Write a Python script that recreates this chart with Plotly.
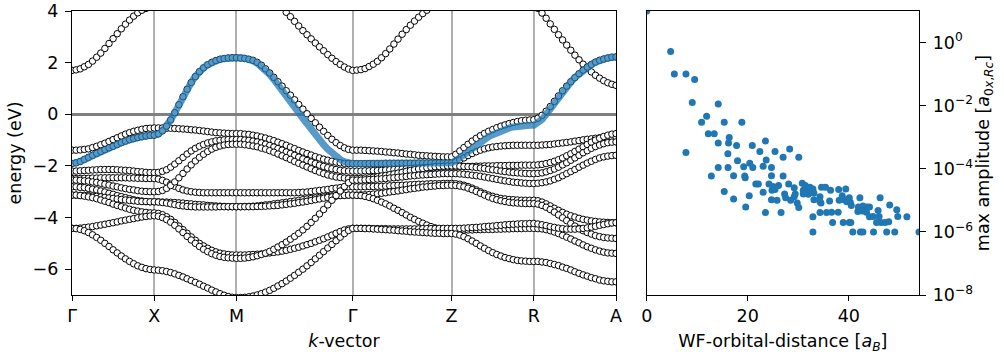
import numpy as np
import plotly.graph_objects as go

# ---------------- band-structure data ----------------
K_LABELS = ["Γ", "X", "M", "Γ", "Z", "R", "A"]
K_NODES = [0.0, 1.0, 2.0, 3.414, 4.617, 5.617, 6.617]
N_SEG = [20, 20, 28, 24, 20, 20]   # k-samples per path segment

N = None
# each band: six segment lists (Γ-X, X-M, M-Γ, Γ-Z, Z-R, R-A), end points shared
BAND_TOP = [
    [1.70,1.72,1.76,1.84,1.93,2.06,2.21,2.37,2.55,2.74,2.93,3.12,3.31,3.49,3.65,3.80,3.93,4.03,4.10,4.15,4.16],
    [4.16,N,N,N,N,N,N,N,N,N,N,N,N,N,N,N,N,N,N,N,N],
    [N,N,N,N,N,N,N,N,N,N,N,4.15,3.95,3.78,3.60,3.42,3.24,3.08,2.92,2.76,2.61,2.46,2.31,2.17,2.04,1.93,1.83,1.75,1.70],
    [1.70,1.71,1.73,1.77,1.85,1.94,2.05,2.19,2.35,2.53,2.72,2.91,3.10,3.28,3.45,3.61,3.76,3.90,4.03,4.15,N,N,N,N,N],
    [N,N,N,N,N,N,N,N,N,N,N,N,N,N,N,N,N,N,N,N,N],
    [N,4.10,3.92,3.72,3.50,3.29,3.08,2.88,2.68,2.48,2.29,2.11,1.94,1.78,1.64,1.51,1.40,1.30,1.22,1.16,1.12],
]
BAND_1 = [
    [-1.39,-1.39,-1.38,-1.36,-1.34,-1.29,-1.24,-1.18,-1.12,-1.05,-0.98,-0.91,-0.84,-0.77,-0.71,-0.66,-0.62,-0.58,-0.55,-0.54,-0.53],
    [-0.53,-0.53,-0.53,-0.54,-0.54,-0.55,-0.56,-0.57,-0.58,-0.60,-0.61,-0.63,-0.65,-0.67,-0.69,-0.71,-0.72,-0.73,-0.74,-0.75,-0.75],
    [-0.75,-0.75,-0.77,-0.78,-0.81,-0.84,-0.88,-0.92,-0.97,-1.02,-1.08,-1.14,-1.20,-1.27,-1.33,-1.40,-1.46,-1.52,-1.58,-1.64,-1.69,-1.74,-1.78,-1.82,-1.85,-1.88,-1.90,-1.91,-1.91],
    [-1.91,-1.91,-1.91,-1.91,-1.91,-1.91,-1.91,-1.91,-1.90,-1.90,-1.90,-1.90,-1.90,-1.90,-1.90,-1.90,-1.89,-1.89,-1.89,-1.89,-1.89,-1.88,-1.88,-1.88,-1.88],
    [-1.88,-1.84,-1.77,-1.69,-1.60,-1.52,-1.45,-1.39,-1.34,-1.30,-1.27,-1.25,-1.23,-1.22,-1.21,-1.20,-1.20,-1.20,-1.20,-1.20,-1.20],
    [-1.20,-1.20,-1.19,-1.18,-1.17,-1.15,-1.13,-1.11,-1.09,-1.07,-1.04,-1.02,-0.99,-0.97,-0.95,-0.93,-0.91,-0.90,-0.89,-0.88,-0.88],
]
BAND_2 = [
    [-1.91,-1.88,-1.83,-1.75,-1.67,-1.59,-1.51,-1.44,-1.37,-1.30,-1.24,-1.17,-1.10,-1.04,-0.98,-0.94,-0.90,-0.87,-0.84,-0.82,-0.81],
    [-0.81,-0.76,-0.64,-0.46,-0.22,0.06,0.37,0.68,0.97,1.23,1.46,1.65,1.80,1.92,2.01,2.08,2.13,2.16,2.18,2.19,2.19],
    [2.19,2.18,2.16,2.13,2.09,2.01,1.90,1.76,1.60,1.43,1.26,1.09,0.91,0.74,0.56,0.38,0.20,0.02,-0.16,-0.33,-0.50,-0.66,-0.82,-0.97,-1.10,-1.21,-1.30,-1.36,-1.39],
    [-1.39,-1.39,-1.39,-1.40,-1.41,-1.42,-1.43,-1.44,-1.46,-1.47,-1.49,-1.50,-1.52,-1.54,-1.55,-1.57,-1.59,-1.60,-1.61,-1.62,-1.63,-1.64,-1.65,-1.65,-1.65],
    [-1.65,-1.55,-1.42,-1.29,-1.16,-1.04,-0.93,-0.83,-0.74,-0.66,-0.59,-0.52,-0.46,-0.41,-0.36,-0.32,-0.28,-0.25,-0.23,-0.22,-0.21],
    [-0.21,-0.15,-0.04,0.12,0.30,0.50,0.71,0.91,1.09,1.26,1.42,1.57,1.71,1.83,1.93,2.02,2.09,2.14,2.18,2.21,2.22],
]
BAND_3 = [
    [-2.20,-2.20,-2.19,-2.18,-2.17,-2.16,-2.15,-2.14,-2.14,-2.14,-2.14,-2.15,-2.16,-2.17,-2.18,-2.20,-2.22,-2.23,-2.25,-2.26,-2.26],
    [-2.26,-2.25,-2.21,-2.15,-2.05,-1.93,-1.80,-1.67,-1.54,-1.42,-1.32,-1.24,-1.17,-1.11,-1.07,-1.03,-1.01,-0.99,-0.98,-0.98,-0.98],
    [-0.98,-0.98,-1.00,-1.01,-1.04,-1.07,-1.11,-1.16,-1.21,-1.27,-1.33,-1.39,-1.46,-1.52,-1.59,-1.66,-1.73,-1.79,-1.85,-1.91,-1.97,-2.02,-2.07,-2.11,-2.14,-2.17,-2.19,-2.20,-2.20],
    [-2.20,-2.20,-2.20,-2.19,-2.19,-2.18,-2.18,-2.17,-2.16,-2.15,-2.14,-2.13,-2.12,-2.11,-2.10,-2.09,-2.08,-2.07,-2.06,-2.06,-2.05,-2.05,-2.04,-2.04,-2.04],
    [-2.04,-2.04,-2.03,-2.03,-2.02,-2.02,-2.01,-2.01,-2.00,-2.00,-2.00,-1.99,-1.99,-1.99,-1.98,-1.98,-1.98,-1.97,-1.97,-1.97,-1.97],
    [-1.97,-1.96,-1.94,-1.91,-1.87,-1.82,-1.76,-1.69,-1.61,-1.53,-1.44,-1.35,-1.26,-1.17,-1.08,-1.00,-0.93,-0.86,-0.81,-0.77,-0.75],
]
BAND_4 = [
    [-2.49,-2.49,-2.49,-2.48,-2.48,-2.47,-2.47,-2.46,-2.46,-2.46,-2.46,-2.46,-2.46,-2.46,-2.47,-2.47,-2.48,-2.48,-2.49,-2.49,-2.49],
    [-2.49,-2.51,-2.56,-2.63,-2.71,-2.79,-2.87,-2.93,-2.97,-3.00,-3.02,-3.03,-3.04,-3.04,-3.04,-3.04,-3.04,-3.04,-3.04,-3.04,-3.04],
    [-3.04,-3.04,-3.04,-3.04,-3.04,-3.04,-3.04,-3.04,-3.04,-3.04,-3.04,-3.04,-3.04,-3.04,-3.04,-3.03,-3.02,-3.01,-2.99,-2.97,-2.95,-2.93,-2.91,-2.88,-2.86,-2.84,-2.82,-2.81,-2.81],
    [-2.81,-2.81,-2.81,-2.81,-2.80,-2.80,-2.79,-2.79,-2.78,-2.77,-2.76,-2.75,-2.75,-2.74,-2.73,-2.72,-2.71,-2.71,-2.70,-2.69,-2.69,-2.69,-2.68,-2.68,-2.68],
    [-2.68,-2.69,-2.71,-2.75,-2.80,-2.86,-2.93,-3.00,-3.07,-3.13,-3.18,-3.22,-3.26,-3.28,-3.30,-3.31,-3.32,-3.33,-3.33,-3.33,-3.33],
    [-3.33,-3.35,-3.40,-3.47,-3.55,-3.64,-3.72,-3.80,-3.87,-3.93,-3.98,-4.03,-4.07,-4.10,-4.13,-4.15,-4.17,-4.18,-4.19,-4.20,-4.20],
]
BAND_5 = [
    [-2.55,-2.55,-2.56,-2.58,-2.59,-2.62,-2.64,-2.67,-2.71,-2.74,-2.78,-2.81,-2.85,-2.88,-2.91,-2.93,-2.96,-2.98,-2.99,-3.00,-3.00],
    [-3.00,-2.99,-2.95,-2.87,-2.76,-2.62,-2.46,-2.29,-2.12,-1.96,-1.81,-1.67,-1.55,-1.44,-1.35,-1.28,-1.23,-1.19,-1.17,-1.16,-1.16],
    [-1.16,-1.16,-1.18,-1.20,-1.23,-1.26,-1.31,-1.35,-1.41,-1.47,-1.54,-1.61,-1.68,-1.75,-1.83,-1.90,-1.97,-2.04,-2.11,-2.18,-2.24,-2.30,-2.35,-2.39,-2.43,-2.45,-2.47,-2.49,-2.49],
    [-2.49,-2.49,-2.48,-2.47,-2.46,-2.44,-2.42,-2.39,-2.37,-2.34,-2.31,-2.28,-2.25,-2.21,-2.18,-2.15,-2.12,-2.10,-2.07,-2.05,-2.03,-2.02,-2.01,-2.00,-2.00],
    [-2.00,-2.00,-2.01,-2.02,-2.03,-2.04,-2.06,-2.08,-2.10,-2.13,-2.15,-2.17,-2.20,-2.22,-2.24,-2.26,-2.27,-2.28,-2.29,-2.30,-2.30],
    [-2.30,-2.29,-2.27,-2.23,-2.18,-2.12,-2.05,-1.96,-1.88,-1.78,-1.69,-1.59,-1.49,-1.41,-1.32,-1.25,-1.19,-1.14,-1.10,-1.08,-1.07],
]
BAND_6 = [
    [-2.81,-2.81,-2.83,-2.84,-2.87,-2.90,-2.93,-2.97,-3.01,-3.06,-3.10,-3.15,-3.19,-3.23,-3.27,-3.31,-3.34,-3.36,-3.38,-3.39,-3.39],
    [-3.39,-3.39,-3.40,-3.40,-3.41,-3.42,-3.43,-3.44,-3.46,-3.47,-3.49,-3.50,-3.51,-3.53,-3.54,-3.55,-3.56,-3.57,-3.58,-3.58,-3.58],
    [-3.58,-3.58,-3.57,-3.57,-3.56,-3.55,-3.53,-3.51,-3.50,-3.47,-3.45,-3.43,-3.41,-3.38,-3.36,-3.33,-3.31,-3.28,-3.26,-3.24,-3.22,-3.20,-3.18,-3.16,-3.15,-3.14,-3.14,-3.13,-3.13],
    [-3.13,-3.13,-3.12,-3.12,-3.11,-3.09,-3.08,-3.06,-3.04,-3.01,-2.99,-2.97,-2.94,-2.92,-2.89,-2.87,-2.85,-2.82,-2.81,-2.79,-2.78,-2.76,-2.76,-2.75,-2.75],
    [-2.75,-2.76,-2.78,-2.81,-2.86,-2.92,-2.99,-3.06,-3.13,-3.20,-3.26,-3.31,-3.35,-3.38,-3.41,-3.43,-3.44,-3.45,-3.46,-3.46,-3.46],
    [-3.46,-3.48,-3.53,-3.60,-3.69,-3.79,-3.90,-4.01,-4.12,-4.23,-4.33,-4.42,-4.51,-4.58,-4.64,-4.70,-4.74,-4.77,-4.79,-4.80,-4.81],
]
BAND_7 = [
    [-3.13,-3.13,-3.14,-3.14,-3.15,-3.17,-3.18,-3.20,-3.22,-3.24,-3.26,-3.28,-3.30,-3.32,-3.34,-3.35,-3.37,-3.38,-3.38,-3.39,-3.39],
    [-3.39,-3.40,-3.42,-3.44,-3.47,-3.50,-3.53,-3.55,-3.57,-3.58,-3.59,-3.59,-3.59,-3.59,-3.59,-3.59,-3.58,-3.58,-3.58,-3.58,-3.58],
    [-3.58,-3.58,-3.58,-3.58,-3.58,-3.57,-3.57,-3.56,-3.55,-3.54,-3.53,-3.51,-3.49,-3.47,-3.45,-3.42,-3.40,-3.37,-3.34,-3.31,-3.28,-3.25,-3.22,-3.20,-3.17,-3.15,-3.14,-3.13,-3.13],
    [-3.13,-3.14,-3.15,-3.18,-3.22,-3.27,-3.33,-3.40,-3.47,-3.55,-3.64,-3.72,-3.81,-3.90,-3.99,-4.07,-4.15,-4.22,-4.29,-4.35,-4.40,-4.44,-4.47,-4.48,-4.49],
    [-4.49,-4.49,-4.49,-4.48,-4.48,-4.48,-4.47,-4.47,-4.46,-4.46,-4.46,-4.45,-4.45,-4.44,-4.44,-4.43,-4.43,-4.43,-4.42,-4.42,-4.42],
    [-4.42,-4.43,-4.44,-4.47,-4.51,-4.56,-4.62,-4.69,-4.76,-4.83,-4.91,-4.98,-5.06,-5.13,-5.19,-5.25,-5.30,-5.34,-5.37,-5.38,-5.39],
]
BAND_8 = [
    [-3.13,-3.13,-3.15,-3.17,-3.20,-3.23,-3.27,-3.32,-3.37,-3.42,-3.48,-3.53,-3.58,-3.63,-3.68,-3.72,-3.75,-3.78,-3.80,-3.82,-3.82],
    [-3.82,-3.84,-3.89,-3.97,-4.07,-4.19,-4.33,-4.47,-4.61,-4.75,-4.88,-5.00,-5.10,-5.19,-5.27,-5.33,-5.38,-5.41,-5.43,-5.45,-5.45],
    [-5.45,-5.45,-5.45,-5.44,-5.43,-5.42,-5.41,-5.39,-5.37,-5.35,-5.33,-5.30,-5.27,-5.23,-5.19,-5.15,-5.10,-5.05,-5.00,-4.94,-4.88,-4.82,-4.75,-4.68,-4.61,-4.54,-4.48,-4.44,-4.42],
    [-4.42,-4.42,-4.42,-4.42,-4.42,-4.43,-4.43,-4.43,-4.43,-4.44,-4.44,-4.44,-4.44,-4.44,-4.44,-4.44,-4.44,-4.43,-4.43,-4.43,-4.43,-4.42,-4.42,-4.42,-4.42],
    [-4.42,-4.42,-4.42,-4.41,-4.40,-4.39,-4.38,-4.37,-4.35,-4.34,-4.33,-4.31,-4.30,-4.28,-4.27,-4.26,-4.25,-4.24,-4.24,-4.23,-4.23],
    [-4.23,-4.25,-4.28,-4.31,-4.35,-4.38,-4.41,-4.43,-4.45,-4.45,-4.45,-4.44,-4.42,-4.40,-4.37,-4.34,-4.30,-4.27,-4.24,-4.21,-4.20],
]
BAND_9 = [
    [-4.42,-4.42,-4.41,-4.39,-4.37,-4.35,-4.32,-4.29,-4.26,-4.23,-4.20,-4.17,-4.13,-4.10,-4.07,-4.04,-4.01,-3.98,-3.96,-3.94,-3.93],
    [-3.93,-3.95,-4.00,-4.08,-4.18,-4.30,-4.44,-4.58,-4.73,-4.87,-5.00,-5.12,-5.23,-5.32,-5.40,-5.46,-5.51,-5.54,-5.56,-5.57,-5.58],
    [-5.58,-5.58,-5.57,-5.55,-5.52,-5.48,-5.43,-5.38,-5.31,-5.23,-5.14,-5.05,-4.95,-4.84,-4.73,-4.61,-4.48,-4.34,-4.19,-4.03,-3.86,-3.69,-3.51,-3.33,-3.15,-2.97,-2.80,-2.65,-2.55],
    [-2.55,-2.55,-2.55,-2.54,-2.53,-2.52,-2.51,-2.50,-2.49,-2.47,-2.46,-2.44,-2.43,-2.41,-2.39,-2.38,-2.36,-2.35,-2.34,-2.33,-2.32,-2.31,-2.30,-2.30,-2.30],
    [-2.30,-2.30,-2.31,-2.32,-2.34,-2.36,-2.38,-2.40,-2.43,-2.46,-2.49,-2.52,-2.55,-2.58,-2.60,-2.63,-2.64,-2.66,-2.67,-2.68,-2.68],
    [-2.68,-2.67,-2.65,-2.62,-2.58,-2.52,-2.46,-2.38,-2.30,-2.22,-2.14,-2.05,-1.97,-1.89,-1.82,-1.75,-1.69,-1.65,-1.62,-1.60,-1.59],
]
BAND_10 = [
    [-4.42,-4.43,-4.46,-4.51,-4.58,-4.67,-4.77,-4.88,-5.00,-5.12,-5.25,-5.37,-5.49,-5.60,-5.70,-5.79,-5.87,-5.93,-5.98,-6.01,-6.03],
    [-6.03,-6.04,-6.06,-6.09,-6.13,-6.18,-6.24,-6.30,-6.37,-6.44,-6.51,-6.58,-6.66,-6.73,-6.81,-6.88,-6.95,-7.01,-7.06,-7.09,-7.10],
    [-7.10,-7.10,-7.09,-7.07,-7.04,-7.00,-6.95,-6.89,-6.82,-6.74,-6.65,-6.56,-6.46,-6.35,-6.24,-6.12,-6.00,-5.87,-5.74,-5.60,-5.46,-5.32,-5.18,-5.04,-4.90,-4.76,-4.62,-4.50,-4.42],
    [-4.42,-4.42,-4.42,-4.43,-4.43,-4.44,-4.45,-4.46,-4.47,-4.48,-4.49,-4.51,-4.52,-4.53,-4.55,-4.56,-4.57,-4.58,-4.59,-4.60,-4.61,-4.61,-4.62,-4.62,-4.62],
    [-4.62,-4.64,-4.68,-4.74,-4.82,-4.91,-5.00,-5.10,-5.19,-5.28,-5.36,-5.43,-5.49,-5.55,-5.59,-5.63,-5.66,-5.68,-5.69,-5.70,-5.70],
    [-5.70,-5.70,-5.72,-5.74,-5.78,-5.82,-5.86,-5.92,-5.97,-6.03,-6.10,-6.16,-6.22,-6.27,-6.33,-6.37,-6.42,-6.45,-6.47,-6.49,-6.49],
]
# Wannier-interpolated band (blue)
WANNIER = [
    [-1.91,-1.88,-1.83,-1.75,-1.67,-1.59,-1.51,-1.44,-1.37,-1.30,-1.24,-1.17,-1.10,-1.04,-0.98,-0.94,-0.90,-0.87,-0.84,-0.82,-0.81],
    [-0.81,-0.76,-0.64,-0.46,-0.22,0.06,0.37,0.68,0.97,1.23,1.46,1.65,1.80,1.92,2.01,2.08,2.13,2.16,2.18,2.19,2.19],
    [2.19,2.19,2.17,2.13,2.07,1.98,1.86,1.71,1.54,1.35,1.15,0.94,0.72,0.50,0.28,0.06,-0.16,-0.38,-0.59,-0.80,-1.00,-1.18,-1.35,-1.51,-1.64,-1.75,-1.84,-1.89,-1.91],
    [-1.91,-1.91,-1.91,-1.91,-1.91,-1.90,-1.90,-1.90,-1.90,-1.90,-1.90,-1.90,-1.89,-1.89,-1.89,-1.89,-1.89,-1.89,-1.89,-1.88,-1.88,-1.88,-1.88,-1.88,-1.88],
    [-1.88,-1.80,-1.68,-1.55,-1.42,-1.29,-1.17,-1.06,-0.96,-0.87,-0.79,-0.71,-0.64,-0.58,-0.53,-0.49,-0.46,-0.44,-0.43,-0.43,-0.43],
    [-0.43,-0.35,-0.20,0.00,0.22,0.45,0.68,0.88,1.07,1.25,1.42,1.57,1.71,1.83,1.93,2.02,2.09,2.14,2.18,2.21,2.22],
]

# ---------------- WF amplitude data ----------------
DIST = [0.0, 4.74, 5.47, 7.77, 9.49, 9.02, 14.16, 11.86, 10.87, 15.35,
        18.84, 12.19, 13.37, 16.34, 16.2, 14.16, 17.79, 23.5, 20.9, 22.4,
        25.4, 28.3, 27.0, 30.1, 7.77, 16.07, 17.98, 20.4, 19.2, 23.65,
        23.05, 24.7, 14.16, 16.1, 21.0, 12.8, 17.2, 19.4, 19.5, 24.7,
        27.0, 21.6, 22.1, 24.2, 25.0, 26.1, 28.1, 29.2, 30.8, 31.4,
        32.3, 32.9, 31.6, 34.6, 35.4, 36.4, 38.0, 39.4, 25.4, 24.8,
        23.05, 15.35, 20.3, 17.2, 24.7, 25.8, 27.5, 29.2, 29.8, 30.1,
        31.0, 32.0, 33.1, 34.3, 36.2, 34.3, 38.7, 39.1, 39.6, 40.3,
        40.1, 42.2, 46.2, 40.5, 41.9, 42.8, 43.6, 41.8, 42.7, 43.5,
        44.1, 44.8, 45.8, 46.0, 48.1, 49.5, 49.7, 51.5, 47.9, 47.2,
        46.4, 45.5, 36.8, 38.9, 40.1, 40.4, 32.9, 34.3, 35.6, 36.6,
        37.9, 23.5, 26.6, 32.9, 40.8, 42.3, 42.8, 44.9, 47.5, 49.1,
        53.9, 19.6, 34.5, 44.1, 31.8, 31.0, 33.1, 38.1, 29.4, 27.3,
        28.5]
AMP = [10.0, 0.52, 0.10, 0.10, 0.068, 0.0126, 0.0112, 0.0046, 0.0030, 0.0030,
       0.0030, 1.3e-3, 1.3e-3, 9.8e-4, 6.6e-4, 6.6e-4, 5.5e-4, 7.6e-4, 5.5e-4, 3.5e-4,
       3.5e-4, 4.2e-4, 2.3e-4, 2.3e-4, 3.3e-4, 3.0e-4, 1.8e-4, 1.5e-4, 1.15e-4, 1.9e-4,
       1.2e-4, 1.1e-4, 1.1e-4, 1.1e-4, 1.1e-4, 5.9e-5, 6.0e-5, 5.9e-5, 5.2e-5, 6.0e-5,
       5.9e-5, 3.3e-5, 3.3e-5, 3.3e-5, 2.75e-5, 2.95e-5, 3.3e-5, 2.5e-5, 3.5e-5, 2.95e-5,
       2.6e-5, 2.3e-5, 1.8e-5, 2.6e-5, 2.6e-5, 2.1e-5, 2.2e-5, 2.3e-5, 2.2e-5, 2.1e-5,
       1.8e-5, 1.9e-5, 1.4e-5, 1.1e-5, 1.05e-5, 1.0e-5, 1.2e-5, 1.3e-5, 8.3e-6, 5.9e-6,
       1.6e-5, 1.55e-5, 1.7e-5, 1.3e-5, 9.5e-6, 9.1e-6, 1.4e-5, 1.05e-5, 9.1e-6, 8.7e-6,
       1.2e-5, 1.2e-5, 1.2e-5, 6.9e-6, 6.2e-6, 6.6e-6, 6.2e-6, 4.4e-6, 4.6e-6, 4.2e-6,
       3.0e-6, 3.1e-6, 4.8e-6, 3.1e-6, 7.1e-6, 5.0e-6, 3.1e-6, 3.0e-6, 2.1e-6, 2.0e-6,
       2.0e-6, 2.0e-6, 2.0e-6, 2.0e-6, 2.0e-6, 2.0e-6, 3.0e-6, 4.1e-6, 4.1e-6, 4.2e-6,
       4.2e-6, 4.1e-6, 4.1e-6, 1.0e-6, 1.0e-6, 1.0e-6, 1.0e-6, 1.0e-6, 1.0e-6, 1.0e-6,
       1.0e-6, 6.2e-6, 8.3e-6, 6.2e-6, 2.3e-5, 2.1e-5, 1.05e-5, 1.0e-5, 1.6e-5, 1.6e-5,
       1.0e-5]
AMP_TICKS = [1e-8, 1e-6, 1e-4, 1e-2, 1e0]
AMP_TICKTEXT = ["10<sup>−8</sup>", "10<sup>−6</sup>", "10<sup>−4</sup>", "10<sup>−2</sup>", "10<sup>0</sup>"]


def path_k():
    ks = [K_NODES[0]]
    for i, n in enumerate(N_SEG):
        ks.extend(np.linspace(K_NODES[i], K_NODES[i + 1], n + 1)[1:].tolist())
    return ks


def join(segs):
    out = list(segs[0])
    for s in segs[1:]:
        out.extend(s[1:])
    return out


K = path_k()
FONT = "DejaVu Sans"
FS = 17.5
fig = go.Figure()

for band in [BAND_TOP, BAND_1, BAND_2, BAND_3, BAND_4, BAND_5,
             BAND_6, BAND_7, BAND_8, BAND_9, BAND_10]:
    fig.add_trace(go.Scatter(
        x=K, y=join(band), mode="markers", xaxis="x", yaxis="y",
        marker=dict(symbol="circle", size=6.5, color="white",
                    line=dict(color="black", width=1)),
        showlegend=False, hoverinfo="skip"))

fig.add_trace(go.Scatter(
    x=K, y=join(WANNIER), mode="lines", xaxis="x", yaxis="y",
    line=dict(color="rgba(31,119,180,0.75)", width=7),
    showlegend=False, hoverinfo="skip"))

fig.add_trace(go.Scatter(
    x=DIST, y=AMP, mode="markers", xaxis="x2", yaxis="y2",
    marker=dict(color="#1f77b4", size=7),
    showlegend=False))

axis_common = dict(showline=True, linecolor="black", linewidth=1.3, mirror=True,
                   ticks="outside", tickwidth=1.3, tickcolor="black",
                   automargin=False,
                   tickfont=dict(family=FONT, size=FS, color="black"))
xcommon = dict(ticklen=5, ticklabelstandoff=0, **axis_common)
ycommon = dict(ticklen=6, ticklabelstandoff=3, **axis_common)

fig.update_layout(
    width=1004, height=358,
    margin=dict(l=72, r=85, t=11, b=63),
    paper_bgcolor="white", plot_bgcolor="white",
    font=dict(family=FONT, size=FS, color="black"),
    xaxis=dict(domain=[0, 0.6423], range=[0, K_NODES[-1]],
               tickmode="array", tickvals=K_NODES, ticktext=K_LABELS,
               showgrid=True, gridcolor="#b0b0b0", gridwidth=1.5,
               zeroline=False, anchor="y",
               title=dict(text="<i>k</i>-vector", standoff=9,
                          font=dict(family=FONT, size=FS)),
               **xcommon),
    yaxis=dict(domain=[0, 1], range=[-7, 4], tickmode="array",
               tickvals=[-6, -4, -2, 0, 2, 4], showgrid=False,
               zeroline=True, zerolinecolor="#808080", zerolinewidth=2.5,
               anchor="x",
               title=dict(text="energy (eV)", standoff=6,
                          font=dict(family=FONT, size=FS)),
               **ycommon),
    xaxis2=dict(domain=[0.6785, 1], range=[0, 53.9], tickmode="array",
                tickvals=[0, 20, 40], showgrid=False, zeroline=False,
                anchor="y2",
                title=dict(text="WF-orbital-distance [<i>a</i><sub><i>B</i></sub>]",
                           standoff=9, font=dict(family=FONT, size=FS)),
                **xcommon),
    yaxis2=dict(domain=[0, 1], type="log", range=[-8, 1], tickmode="array",
                tickvals=AMP_TICKS, ticktext=AMP_TICKTEXT, side="right",
                showgrid=False, zeroline=False, anchor="x2",
                title=dict(text="max amplitude [<i>a</i><sub>0<i>x</i>,<i>Rc</i></sub>]",
                           standoff=3, font=dict(family=FONT, size=FS)),
                **ycommon),
)

fig.write_html("out.html", config={"displayModeBar": False},
               post_script="document.body.style.margin='0';document.body.style.overflow='hidden';")
